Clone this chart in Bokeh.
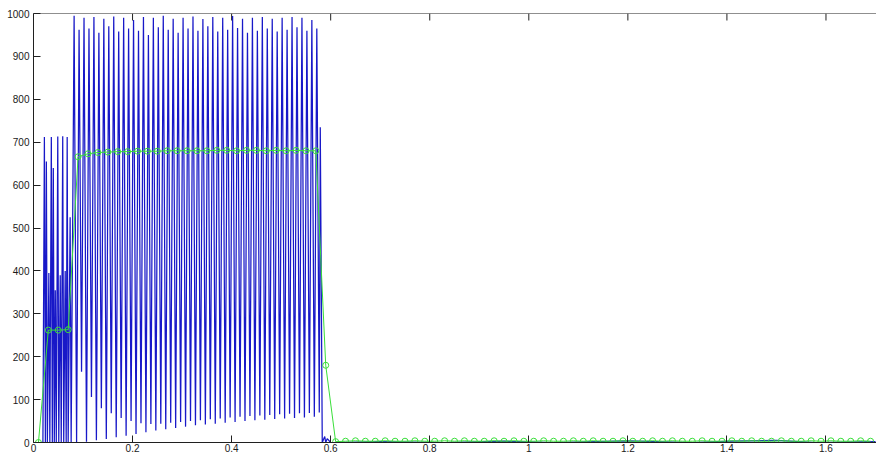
import numpy as np
from bokeh.plotting import figure
from bokeh.models import Range1d, FixedTicker, CustomJSTickFormatter, Span
from bokeh.embed import file_html
from bokeh.resources import INLINE

# ---------------- data ----------------
x_ticks = [0, 0.2, 0.4, 0.6, 0.8, 1.0, 1.2, 1.4, 1.6]
y_ticks = [0, 100, 200, 300, 400, 500, 600, 700, 800, 900, 1000]

# blue signal: start-up burst (times and values)
blue_early_t = [0.000, 0.019, 0.022, 0.024, 0.026, 0.028, 0.031, 0.033, 0.036, 0.038,
                0.040, 0.042, 0.044, 0.046, 0.049, 0.051, 0.054, 0.056, 0.059, 0.061,
                0.064, 0.066, 0.068, 0.070, 0.074, 0.076]
blue_early_v = [0, 0, 712, 0, 655, 0, 395, 0, 712, 0,
                640, 0, 355, 0, 713, 0, 390, 0, 714, 0,
                400, 0, 712, 0, 525, 0]

# blue signal: main oscillation, one peak every 0.01 s starting at 0.082 s
blue_peak_t0 = 0.082
blue_peak_dt = 0.01
blue_peaks = [995, 962, 990, 965, 992, 955, 988, 970, 993, 958,
              990, 965, 985, 960, 992, 950, 990, 968, 995, 962,
              988, 955, 990, 965, 993, 960, 987, 970, 992, 958,
              990, 962, 994, 966, 988, 955, 990, 960, 992, 965,
              988, 958, 990, 962, 992, 968, 990, 960, 985, 965]
# trough after each peak (half a period later)
blue_troughs = [0, 165, 2, 106, 5, 80, 8, 68, 12, 57,
                16, 50, 20, 45, 24, 43, 28, 44, 31, 46,
                34, 48, 37, 50, 40, 52, 42, 54, 44, 56,
                46, 58, 48, 60, 50, 62, 52, 63, 53, 64,
                55, 66, 56, 67, 57, 68, 58, 69, 60, 70]

# blue signal: shut-down and idle tail
blue_tail_t = [0.579, 0.583, 0.588, 0.590, 0.593, 0.600, 0.605, 0.70, 0.83, 0.95,
               1.05, 1.20, 1.33, 1.41, 1.50, 1.58, 1.70]
blue_tail_v = [735, 0, 14, 0, 9, 0, 0, 2, 0, 3,
               0, 4, 0, 3, 5, 0, 2]

# green sampled series, one sample every 0.02 s starting at 0.01 s
green_t0 = 0.01
green_dt = 0.02
green_v = [0, 262, 262, 263, 666, 673, 676, 677, 678, 678,
           679, 679, 679, 680, 680, 680, 680, 680, 681, 681,
           680, 681, 681, 680, 681, 680, 681, 680, 680, 180,
           2, 3, 4, 3, 3, 4, 3, 3, 4, 3,
           3, 4, 3, 4, 3, 3, 4, 3, 4, 3,
           3, 4, 3, 3, 4, 3, 4, 3, 3, 4,
           3, 3, 4, 3, 4, 3, 3, 4, 3, 3,
           4, 3, 4, 3, 3, 4, 3, 3, 4, 3,
           4, 3, 3, 4, 3]

# ---------------- assemble series ----------------
peak_t = blue_peak_t0 + blue_peak_dt * np.arange(len(blue_peaks))
trough_t = peak_t + blue_peak_dt / 2
main_t = np.empty(2 * len(blue_peaks))
main_v = np.empty(2 * len(blue_peaks))
main_t[0::2] = peak_t
main_t[1::2] = trough_t
main_v[0::2] = blue_peaks
main_v[1::2] = blue_troughs
blue_t = np.concatenate([blue_early_t, main_t, blue_tail_t])
blue_y = np.concatenate([blue_early_v, main_v, blue_tail_v])

green_t = green_t0 + green_dt * np.arange(len(green_v))

# ---------------- figure ----------------
AX = "#202020"
p = figure(width=876, height=454, output_backend="svg", toolbar_location=None,
           x_range=Range1d(0, 1.702), y_range=Range1d(0, 1000),
           min_border_left=33, min_border_right=0, min_border_top=13, min_border_bottom=0)
p.outline_line_color = None
p.grid.visible = False
p.background_fill_color = "white"
p.border_fill_color = "white"

fmt = CustomJSTickFormatter(code="return String(Number(tick.toFixed(1)));")

def style(ax, ticks):
    ax.ticker = FixedTicker(ticks=ticks)
    ax.major_tick_in = 7
    ax.major_tick_out = 0
    ax.minor_tick_line_color = None
    ax.axis_line_color = AX
    ax.major_tick_line_color = AX
    ax.major_label_text_font = "Liberation Sans"
    ax.major_label_text_font_size = "10px"
    ax.major_label_text_color = "#1a1a1a"

style(p.xaxis[0], x_ticks)
p.xaxis[0].formatter = fmt
p.xaxis[0].major_label_standoff = 1
style(p.yaxis[0], y_ticks)
p.yaxis[0].major_label_standoff = 4

# top edge of the box with inward ticks (box on, no right edge visible)
p.add_layout(Span(location=1000, dimension="width", line_color=AX, line_width=1))
p.ray(x=x_ticks, y=[1000] * len(x_ticks), length=7, length_units="screen",
      angle=-np.pi / 2, line_color=AX, line_width=1)

p.line(blue_t, blue_y, line_color="#1818c8", line_width=1.25)
p.line(green_t, green_v, line_color="#3ade3a", line_width=1)
p.scatter(green_t, green_v, marker="circle", size=6, fill_color=None,
          line_color="#3ade3a", line_width=1)

open("out.html", "w").write(file_html(p, INLINE))
